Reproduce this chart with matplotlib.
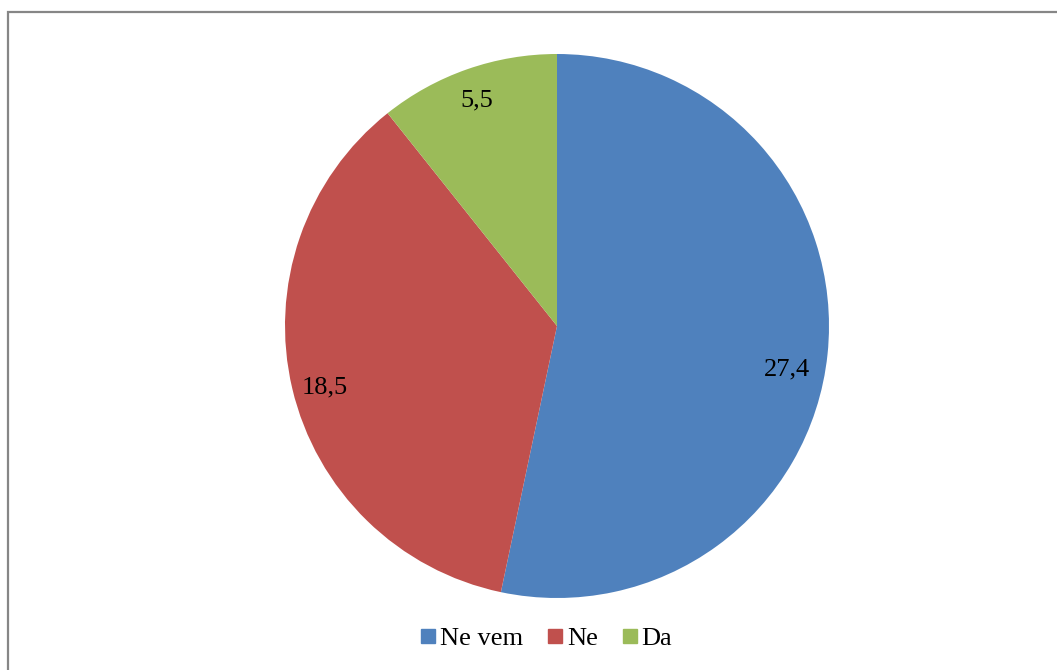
import numpy as np
import matplotlib.pyplot as plt
from matplotlib.lines import Line2D
from matplotlib.patches import Rectangle

# podatki
categories = ['Ne vem', 'Ne', 'Da']
values = [27.4, 18.5, 5.5]
colors = ['#4F81BD', '#C0504D', '#9BBB59']

plt.rcParams['font.family'] = ['Liberation Serif', 'DejaVu Serif']

W, H = 1057, 670
fig = plt.figure(figsize=(W / 100, H / 100), dpi=100)

# okvir grafikona (desni in spodnji rob sta odrezana)
fig.patches.append(Rectangle((8 / W, -0.1), 1.2, (H - 12) / H + 0.1, transform=fig.transFigure,
                             fill=False, edgecolor='#868686', linewidth=1.6))

cx, cy, r = 557, 326, 272
ax = fig.add_axes([(cx - r) / W, (H - cy - r) / H, 2 * r / W, 2 * r / H])

total = sum(values)
wedges, texts, autotexts = ax.pie(values, colors=colors, startangle=90, counterclock=False,
                                  radius=1, pctdistance=0.86,
                                  autopct=lambda p: f'{p * total / 100:.1f}'.replace('.', ','),
                                  wedgeprops={'linewidth': 0},
                                  textprops={'fontsize': 19, 'color': 'black'})

# položaj oznak ("best fit" kot v Excelu)
angle_shift = [-4, 1, 0]
label_dist = [0.86, 0.88, 0.89]
for w, t, da, d in zip(wedges, autotexts, angle_shift, label_dist):
    ang = np.deg2rad((w.theta1 + w.theta2) / 2 + da)
    t.set_position((d * np.cos(ang), d * np.sin(ang) - 0.01))

ax.set_xlim(-1, 1)
ax.set_ylim(-1, 1)
ax.axis('off')

handles = [Line2D([], [], marker='s', linestyle='none', markersize=9.5, color=c) for c in colors]
fig.legend(handles, categories, loc='center', bbox_to_anchor=(545 / W, 1 - 638 / H),
           ncol=3, frameon=False, fontsize=19, handletextpad=0.05, columnspacing=0.8,
           handlelength=0.8)

fig.savefig('out.png', dpi=100)
